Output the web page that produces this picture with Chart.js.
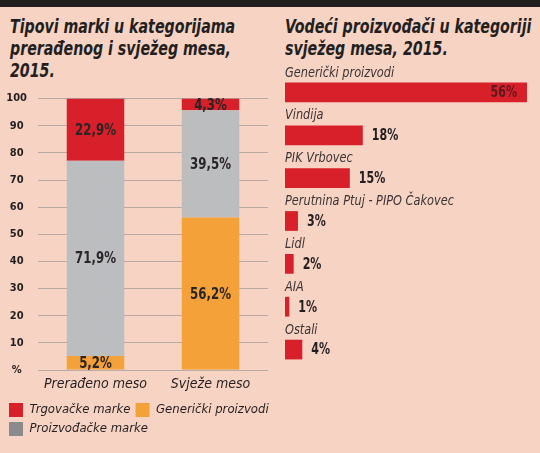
<!DOCTYPE html>
<html>
<head>
<meta charset="utf-8">
<script src="https://cdn.jsdelivr.net/npm/chart.js@4.4.1/dist/chart.umd.min.js"></script>
<style>
  body { margin: 0; background: #f7d3c4; width: 540px; height: 453px; overflow: hidden; position: relative;
         font-family: "DejaVu Sans Condensed", "DejaVu Sans", sans-serif; }
  #topbar { position: absolute; left: 0; top: 0; width: 540px; height: 7px; background: #231f20; }
  .title { position: absolute; top: 15px; font-weight: bold; font-style: italic; font-size: 19px;
           line-height: 22px; color: #231f20; white-space: nowrap;
           transform: scaleX(0.83); transform-origin: left top; }
  #left-title { left: 10px; }
  #right-title { left: 285px; }
  #left-wrap { position: absolute; left: 0; top: 81px; width: 300px; height: 372px; }
  #right-wrap { position: absolute; left: 280px; top: 60px; width: 260px; height: 320px; }
</style>
</head>
<body>
<div id="topbar"></div>
<div class="title" id="left-title">Tipovi marki u kategorijama<br>prerađenog i svježeg mesa,<br>2015.</div>
<div class="title" id="right-title">Vodeći proizvođači u kategoriji<br>svježeg mesa, 2015.</div>
<div id="left-wrap"><canvas id="types-chart" width="300" height="372"></canvas></div>
<div id="right-wrap"><canvas id="producers-chart" width="260" height="320"></canvas></div>

<script>
const FONT = '"DejaVu Sans Condensed", "DejaVu Sans", sans-serif';
const TEXT_DARK = '#231f20';

// lijevi graf: tipovi marki
const meatTypes = ['Prerađeno meso', 'Svježe meso'];
const genericShare = [5.2, 56.2];
const producerShare = [71.9, 39.5];
const retailShare = [22.9, 4.3];
const legendOrder = ['Trgovačke marke', 'Generički proizvodi', 'Proizvođačke marke'];

// desni graf: vodeći proizvođači
const producers = ['Generički proizvodi', 'Vindija', 'PIK Vrbovec', 'Perutnina Ptuj - PIPO Čakovec', 'Lidl', 'AIA', 'Ostali'];
const producerValues = [56, 18, 15, 3, 2, 1, 4];

const RED = '#d8202b';
const ORANGE = '#f5a13a';
const GREY = '#bcbdbf';
const GREY_LEGEND = '#8b8b8d';

// uski tekst: font nema condensed varijantu pa se sabija po širini
function narrowText(ctx, text, x, y, align, sx) {
    ctx.save();
    ctx.translate(x, y);
    ctx.scale(sx, 1);
    ctx.textAlign = align;
    ctx.fillText(text, 0, 0);
    ctx.restore();
}

const segmentLabels = {
    id: 'segmentLabels',
    afterDatasetsDraw(chart) {
        const ctx = chart.ctx;
        ctx.save();
        ctx.font = `bold 16px ${FONT}`;
        ctx.fillStyle = '#2a2526';
        ctx.textBaseline = 'middle';
        chart.data.datasets.forEach((ds, i) => {
            chart.getDatasetMeta(i).data.forEach((bar, j) => {
                const label = ds.data[j].toFixed(1).replace('.', ',') + '%';
                narrowText(ctx, label, bar.x, (bar.y + bar.base) / 2 + 1, 'center', 0.82);
            });
        });
        ctx.restore();
    }
};

const producerLabels = {
    id: 'producerLabels',
    afterDatasetsDraw(chart) {
        const ctx = chart.ctx;
        ctx.save();
        chart.getDatasetMeta(0).data.forEach((bar, i) => {
            const top = bar.y - bar.height / 2;
            ctx.font = `italic 14px ${FONT}`;
            ctx.fillStyle = '#3a3435';
            ctx.textBaseline = 'alphabetic';
            narrowText(ctx, producers[i], bar.base, top - 6, 'left', 0.9);

            ctx.font = `bold 15px ${FONT}`;
            ctx.fillStyle = TEXT_DARK;
            ctx.textBaseline = 'middle';
            const text = producerValues[i] + '%';
            if (bar.x - bar.base > 120) {
                ctx.fillStyle = '#5a1a1e';
                narrowText(ctx, text, bar.x - 10, bar.y + 1, 'right', 0.82);
            } else {
                narrowText(ctx, text, bar.x + 9, bar.y + 1, 'left', 0.82);
            }
        });
        ctx.restore();
    }
};

new Chart(document.getElementById('types-chart'), {
    type: 'bar',
    data: {
        labels: meatTypes,
        datasets: [
            { label: 'Generički proizvodi', data: genericShare, backgroundColor: ORANGE },
            { label: 'Proizvođačke marke', data: producerShare, backgroundColor: GREY },
            { label: 'Trgovačke marke', data: retailShare, backgroundColor: RED }
        ]
    },
    options: {
        responsive: false,
        animation: false,
        devicePixelRatio: 1,
        layout: { padding: { left: 4, right: 4, top: 4, bottom: 7 } },
        datasets: { bar: { categoryPercentage: 1, barPercentage: 0.5, borderWidth: 0 } },
        scales: {
            x: {
                stacked: true,
                grid: { display: false, drawTicks: false },
                border: { display: false },
                ticks: {
                    color: TEXT_DARK, padding: 7, maxRotation: 0, minRotation: 0, autoSkip: false,
                    font: { family: FONT, size: 14, style: 'italic', lineHeight: 1 }
                }
            },
            y: {
                stacked: true,
                min: 0,
                max: 100,
                grid: { color: '#b7aaa5', drawTicks: false },
                border: { display: false },
                afterFit: (axis) => { axis.width = 34; },
                ticks: {
                    stepSize: 10,
                    crossAlign: 'center',
                    padding: 11,
                    color: TEXT_DARK,
                    font: { family: FONT, size: 11, weight: 'bold' },
                    callback: (v) => v === 0 ? '%' : v
                }
            },
            // prazan prostor desno od grafa, legenda ostaje šira
            spacer: {
                type: 'linear',
                position: 'right',
                grid: { display: false, drawTicks: false },
                border: { display: false },
                ticks: { display: false },
                afterFit: (axis) => { axis.width = 28; }
            }
        },
        plugins: {
            tooltip: { enabled: false },
            legend: {
                position: 'bottom',
                align: 'start',
                labels: {
                    boxWidth: 14,
                    boxHeight: 14,
                    padding: 5,
                    color: TEXT_DARK,
                    font: { family: FONT, size: 13, style: 'italic' },
                    sort: (a, b) => legendOrder.indexOf(a.text) - legendOrder.indexOf(b.text),
                    generateLabels: (chart) => Chart.defaults.plugins.legend.labels.generateLabels(chart).map(item => {
                        if (item.text === 'Proizvođačke marke') item.fillStyle = GREY_LEGEND;
                        item.lineWidth = 0;
                        return item;
                    })
                }
            }
        }
    },
    plugins: [segmentLabels]
});

new Chart(document.getElementById('producers-chart'), {
    type: 'bar',
    data: {
        labels: producers,
        datasets: [{ data: producerValues, backgroundColor: RED, borderWidth: 0 }]
    },
    options: {
        indexAxis: 'y',
        responsive: false,
        animation: false,
        devicePixelRatio: 1,
        layout: { padding: { left: 5, right: 13, top: 11, bottom: 9 } },
        datasets: { bar: { categoryPercentage: 1, barPercentage: 0.46 } },
        scales: {
            x: { display: false, min: 0, max: 56 },
            y: { display: false }
        },
        plugins: { legend: { display: false }, tooltip: { enabled: false } }
    },
    plugins: [producerLabels]
});
</script>
</body>
</html>
